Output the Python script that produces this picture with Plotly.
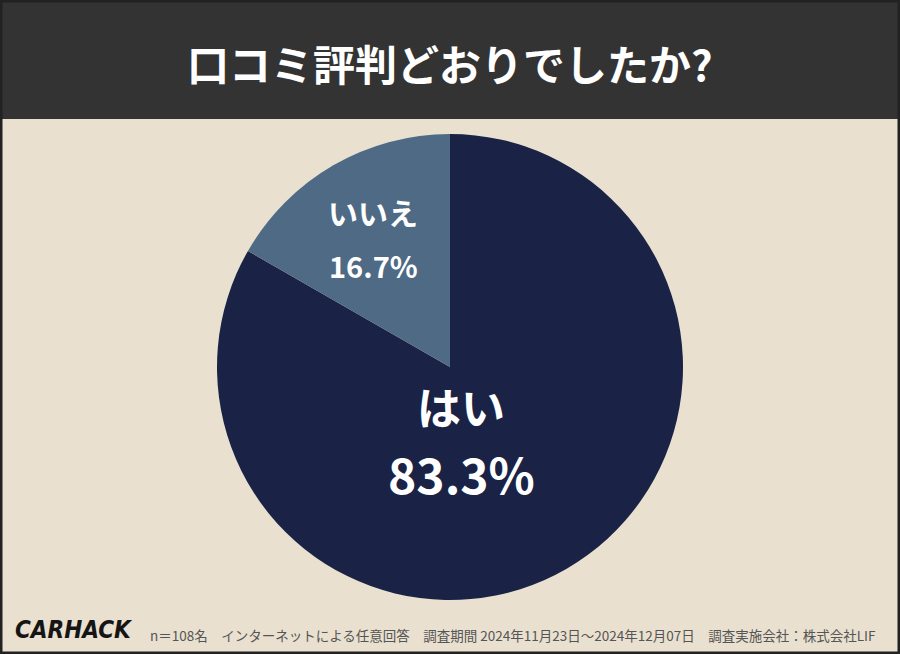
import plotly.graph_objects as go

labels = ["はい", "いいえ"]
values = [83.3, 16.7]
colors = ["#1A2346", "#4E6A85"]
title = "口コミ評判どおりでしたか?"
footer = "n＝108名　インターネットによる任意回答　調査期間 2024年11月23日～2024年12月07日　調査実施会社：株式会社LIF"
logo = "CARHACK"

W, H = 900, 654
FONT = "Noto Sans CJK JP"

fig = go.Figure()
fig.add_trace(go.Pie(
    labels=labels, values=values, sort=False, direction="clockwise", rotation=0,
    marker=dict(colors=colors, line=dict(width=0)),
    textinfo="none", hoverinfo="label+percent", showlegend=False,
    domain=dict(x=[217 / W, 683 / W], y=[1 - 600 / H, 1 - 134 / H]),
))

def py(y):
    return 1 - y / H

ann = [
    dict(text=f"<b>{title}</b>", x=0.5, y=py(62), font=dict(size=42, color="white")),
    dict(text=f"<b>{labels[0]}</b>", x=461 / W, y=py(406), font=dict(size=44, color="white")),
    dict(text=f"<b>{values[0]}%</b>", x=461 / W, y=py(473), font=dict(size=48, color="white")),
    dict(text=f"<b>{labels[1]}</b>", x=373 / W, y=py(212), font=dict(size=30, color="white")),
    dict(text=f"<b>{values[1]}%</b>", x=373 / W, y=py(265), font=dict(size=29, color="white")),
    dict(text=f"<b><i>{logo}</i></b>", x=13 / W, y=py(630), xanchor="left",
         font=dict(size=24, color="#151515", family="DejaVu Sans Condensed")),
    dict(text=footer, x=148 / W, y=py(635), xanchor="left",
         font=dict(size=13.5, color="#555555")),
]
annotations = []
for a in ann:
    a.setdefault("xanchor", "center")
    a.update(xref="paper", yref="paper", showarrow=False, yanchor="middle")
    annotations.append(a)

fig.update_layout(
    width=W, height=H,
    margin=dict(l=0, r=0, t=0, b=0),
    paper_bgcolor="#E9E0CF", plot_bgcolor="#E9E0CF",
    font=dict(family=FONT),
    annotations=annotations,
    shapes=[
        dict(type="rect", xref="paper", yref="paper", x0=0, x1=1, y0=py(119), y1=1,
             fillcolor="#333333", line=dict(width=0), layer="below"),
        dict(type="rect", xref="paper", yref="paper", x0=0, x1=1, y0=0, y1=1,
             fillcolor="rgba(0,0,0,0)", line=dict(width=5, color="#222222")),
    ],
)
fig.write_html("out.html", config={"displayModeBar": False},
               post_script="document.body.style.margin='0';document.body.style.overflow='hidden';")
